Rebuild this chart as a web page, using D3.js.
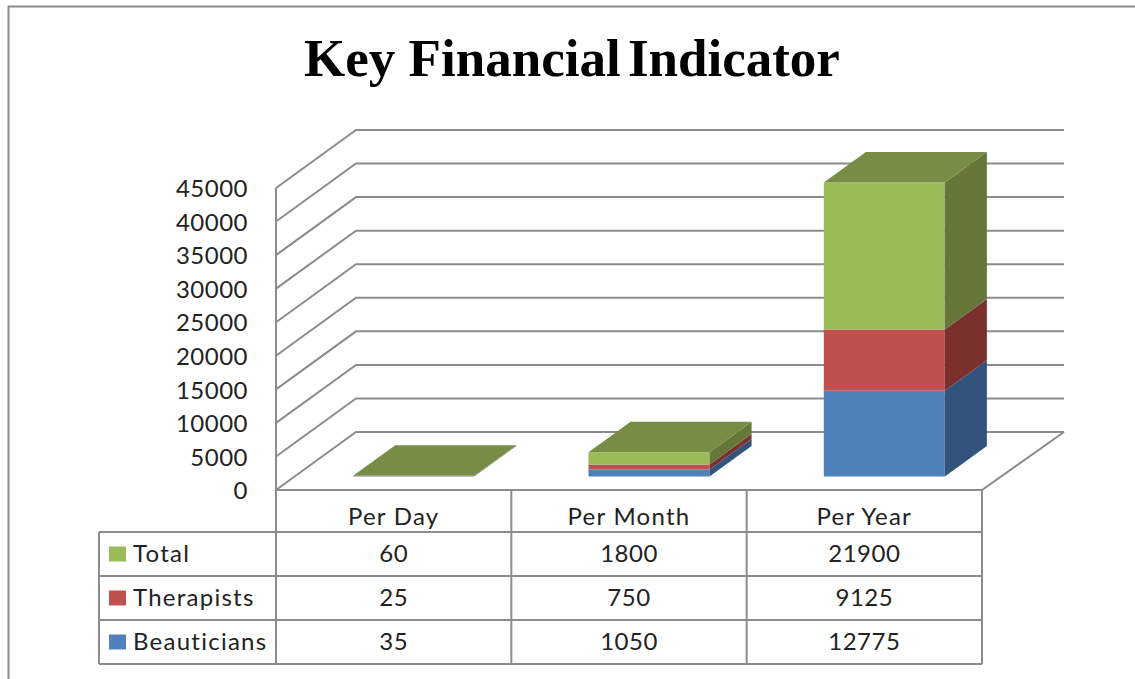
<!DOCTYPE html>
<html>
<head>
<meta charset="utf-8">
<script src="https://cdn.jsdelivr.net/npm/d3@7"></script>
<style>
  html, body { margin: 0; padding: 0; background: #fff; }
  svg { display: block; }
  .lbl { font-family: Lato, sans-serif; font-size: 24px; fill: #222; letter-spacing: 0.5px; }
  .word { letter-spacing: 1.25px; }
  .title { font-family: "Liberation Serif", serif; font-weight: bold; font-size: 53px; fill: #000; }
  .grid { stroke: #8c8c8c; stroke-width: 2; fill: none; }
</style>
</head>
<body>
<div id="chart"></div>
<script>
'use strict';
// Chart values
const categories = ['Per Day', 'Per Month', 'Per Year']
const seriesNames = ['Beauticians', 'Therapists', 'Total']
const beauticians = [35, 1050, 12775]
const therapists = [25, 750, 9125]
const total = [60, 1800, 21900]
const yTicks = [0, 5000, 10000, 15000, 20000, 25000, 30000, 35000, 40000, 45000]

const colors = {
  Beauticians: { front: '#4f81bd', side: '#32547c', top: '#3f6797' },
  Therapists: { front: '#c0504d', side: '#7b302e', top: '#9a403e' },
  Total: { front: '#9bbb59', side: '#66773a', top: '#778d45' }
}

const W = 1135, H = 679
// Wall depth offset of the fake 3d box
const depth = { x: 80, y: -58 }
const barDepth = { start: 0.233, end: 0.759 }

const x = d3.scaleBand().domain(categories).range([276, 982])
const y = d3.scaleLinear().domain([0, 45000]).range([490, 188])
const barInset = 58.5
const barWidth = 121
const backRight = 984 // right wall end sits a touch past the table edge

// Project a point on the floor/wall into the picture
const project = (px, v, d) => [px + depth.x * d, y(v) + depth.y * d]
const poly = pts => pts.map(p => p.join(',')).join(' ')

const svg = d3.select('#chart')
  .append('svg')
  .attr('width', W)
  .attr('height', H)

// Outer frame
svg.append('path').attr('class', 'grid')
  .attr('d', `M 8.5 ${H} L 8.5 6.5 L ${W} 6.5`)

const title = svg.append('text')
  .attr('class', 'title')
  .attr('x', 572)
  .attr('y', 76)
  .attr('text-anchor', 'middle')
title.append('tspan').text('Key Financial ')
title.append('tspan').attr('dx', -6).text('Indicator')

// Gridlines on side wall and back wall
yTicks.forEach(t => {
  const a = project(276, t, 0)
  const b = project(276, t, 1)
  const c = project(backRight, t, 1)
  svg.append('polyline').attr('class', 'grid').attr('points', poly([a, b, c]))
})

// Floor edges
svg.append('polyline').attr('class', 'grid')
  .attr('points', poly([project(276, 0, 0), project(982, 0, 0), project(backRight, 0, 1)]))
svg.append('line').attr('class', 'grid')
  .attr('x1', 276).attr('y1', y(45000)).attr('x2', 276).attr('y2', y(0))

// Y axis labels
const yAxis = svg.append('g')
  .attr('transform', 'translate(248,1)')
  .call(d3.axisLeft(y).tickValues(yTicks).tickFormat(d3.format('d')).tickSize(0).tickPadding(0))
yAxis.select('.domain').remove()
yAxis.selectAll('text').attr('class', 'lbl').attr('font-size', null).attr('font-family', null)

// Stacked bars
const rows = categories.map((c, i) => ({
  category: c,
  Beauticians: beauticians[i],
  Therapists: therapists[i],
  Total: total[i]
}))
const stacked = d3.stack().keys(seriesNames)(rows)

categories.forEach((c, i) => {
  const left = x(c) + barInset
  const right = left + barWidth
  stacked.forEach(layer => {
    const col = colors[layer.key]
    const [v0, v1] = layer[i]
    // front face
    svg.append('polygon').attr('fill', col.front).attr('points', poly([
      project(left, v0, barDepth.start), project(right, v0, barDepth.start),
      project(right, v1, barDepth.start), project(left, v1, barDepth.start)
    ]))
    // side face
    svg.append('polygon').attr('fill', col.side).attr('points', poly([
      project(right, v0, barDepth.start), project(right, v0, barDepth.end),
      project(right, v1, barDepth.end), project(right, v1, barDepth.start)
    ]))
  })
  // top face of the whole stack
  const topLayer = stacked[stacked.length - 1]
  const topV = topLayer[i][1]
  svg.append('polygon').attr('fill', colors[topLayer.key].top).attr('points', poly([
    project(left, topV, barDepth.start), project(right, topV, barDepth.start),
    project(right, topV, barDepth.end), project(left, topV, barDepth.end)
  ]))
})

// Data table
const tableRows = ['Total', 'Therapists', 'Beauticians']
const tableValues = { Total: total, Therapists: therapists, Beauticians: beauticians }
const rowY = d3.scaleBand().domain(tableRows).range([532, 664])
const tableLeft = 99, legendRight = 276

categories.forEach(c => {
  svg.append('line').attr('class', 'grid')
    .attr('x1', x(c) + x.bandwidth()).attr('x2', x(c) + x.bandwidth())
    .attr('y1', 490).attr('y2', 664)
  svg.append('text').attr('class', 'lbl word')
    .attr('x', x(c) + x.bandwidth() / 2)
    .attr('y', 517)
    .attr('dy', '0.35em')
    .attr('text-anchor', 'middle')
    .text(c)
})
svg.append('line').attr('class', 'grid')
  .attr('x1', legendRight).attr('x2', legendRight).attr('y1', 490).attr('y2', 664)
svg.append('line').attr('class', 'grid')
  .attr('x1', tableLeft).attr('x2', tableLeft).attr('y1', 532).attr('y2', 664)
svg.append('line').attr('class', 'grid')
  .attr('x1', tableLeft).attr('x2', 982).attr('y1', 664).attr('y2', 664)

tableRows.forEach(name => {
  const top = rowY(name)
  const mid = top + rowY.bandwidth() / 2
  svg.append('line').attr('class', 'grid')
    .attr('x1', tableLeft).attr('x2', 982).attr('y1', top).attr('y2', top)
  svg.append('rect')
    .attr('x', 109).attr('y', mid - 7.5)
    .attr('width', 17).attr('height', 15)
    .attr('fill', colors[name].front)
  svg.append('text').attr('class', 'lbl word')
    .attr('x', 133).attr('y', mid).attr('dy', '0.35em')
    .text(name)
  categories.forEach((c, i) => {
    svg.append('text').attr('class', 'lbl')
      .attr('x', x(c) + x.bandwidth() / 2)
      .attr('y', mid).attr('dy', '0.35em')
      .attr('text-anchor', 'middle')
      .text(tableValues[name][i])
  })
})
</script>
</body>
</html>
